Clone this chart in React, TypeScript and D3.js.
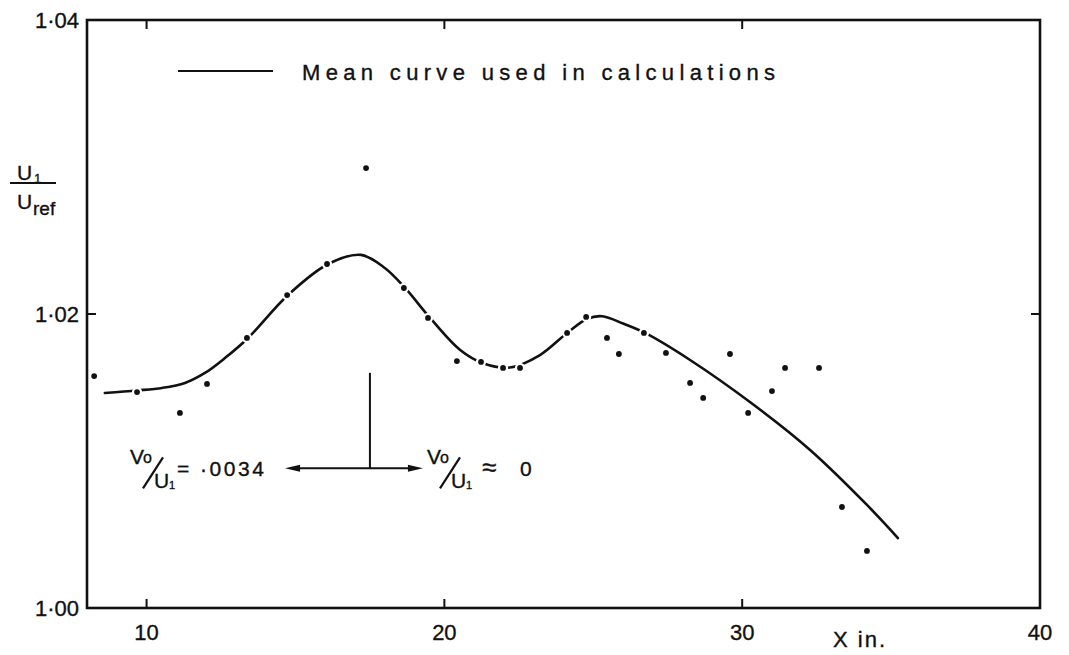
import React from "react";
import * as d3 from "d3";

// ---- data ----
const meanCurveX = [8.6, 9.68, 10.52, 11.29, 11.96, 12.63, 13.41, 14.75, 16.1, 17.2, 18.0, 18.68, 19.52, 20.53, 21.3, 22.2, 23.21, 24.12, 24.8, 25.3, 26.0, 26.74, 28.25, 30.26, 32.28, 34.19, 35.23];
const meanCurveY = [1.01463, 1.0148, 1.01497, 1.01531, 1.01599, 1.017, 1.01837, 1.02129, 1.0234, 1.02402, 1.02313, 1.02177, 1.01973, 1.01755, 1.01665, 1.01636, 1.01721, 1.01871, 1.01968, 1.01985, 1.01935, 1.01871, 1.01687, 1.01401, 1.01075, 1.00701, 1.00476];

const pointX = [8.24, 9.68, 11.12, 12.03, 13.37, 14.72, 16.06, 17.37, 18.64, 19.45, 20.42, 21.23, 21.97, 22.54, 24.12, 24.76, 25.46, 25.86, 26.7, 27.44, 28.25, 28.69, 29.59, 30.2, 31.0, 31.44, 32.58, 33.35, 34.19];
const pointY = [1.01578, 1.01469, 1.01327, 1.01524, 1.01837, 1.02129, 1.0234, 1.02993, 1.02177, 1.01973, 1.0168, 1.01674, 1.01633, 1.01633, 1.01871, 1.0198, 1.01837, 1.01728, 1.01871, 1.01735, 1.01531, 1.01429, 1.01728, 1.01327, 1.01476, 1.01633, 1.01633, 1.00687, 1.00388];

const xTickValues = [10, 20, 30, 40];
const xTickLabels = ["10", "20", "30", "40"];
const yTickValues = [1.0, 1.02, 1.04];
const yTickLabels = ["1·00", "1·02", "1·04"];

const legendLabel = "Mean curve used in calculations";
const xAxisLabel = "X in.";
const leftRatio = "= ·0034";
const approxSign = "≈";
const rightRatio = "0";

// annotation position (data units)
const arrowX = 17.5;
const arrowTopY = 1.016;
const arrowY = 1.0095;
const arrowLeftX = 14.65;
const arrowRightX = 19.28;

const W = 1069;
const H = 655;
const FONT = "'Liberation Sans', Arial, sans-serif";
const INK = "#111";
const TXT = { fill: INK, stroke: INK, strokeWidth: 0.35 };

function SlashFrac({ x, y }: { x: number; y: number }) {
  // x,y: left edge, vertical centre of the V/U1 slashed fraction
  return (
    <g fontFamily={FONT} {...TXT}>
      <text x={x} y={y - 4} fontSize={21}>V</text>
      <text x={x + 13} y={y - 5} fontSize={16}>o</text>
      <line x1={x + 13} y1={y + 20} x2={x + 33} y2={y - 11} stroke={INK} strokeWidth={2.2} />
      <text x={x + 24} y={y + 20} fontSize={21}>U</text>
      <text x={x + 39} y={y + 21} fontSize={11}>1</text>
    </g>
  );
}

export default function App() {
  const x = d3.scaleLinear().domain([8, 40]).range([87, 1040]);
  const y = d3.scaleLinear().domain([1.0, 1.04]).range([608, 20]);

  const curvePts: [number, number][] = meanCurveX.map((v, i) => [v, meanCurveY[i]]);
  const line = d3
    .line<[number, number]>()
    .x((d) => x(d[0]))
    .y((d) => y(d[1]))
    .curve(d3.curveCatmullRom.alpha(0.5));

  const [x0, x1] = x.range();
  const [yb, yt] = y.range();
  const tickLen = 9;

  const ax = x(arrowX);
  const ay = y(arrowY);
  const al = x(arrowLeftX);
  const ar = x(arrowRightX);

  return (
    <svg
      width={W}
      height={H}
      viewBox={`0 0 ${W} ${H}`}
      style={{ position: "absolute", left: 0, top: 0, background: "#fff" }}
    >
      <rect x={0} y={0} width={W} height={H} fill="#fff" />

      {/* mean curve */}
      <path d={line(curvePts) || ""} fill="none" stroke={INK} strokeWidth={2.6} strokeLinecap="round" />

      {/* data points with white halos (break the curve) */}
      {pointX.map((v, i) => (
        <circle key={i} cx={x(v)} cy={y(pointY[i])} r={2.9} fill={INK} stroke="#fff" strokeWidth={4.5} paintOrder="stroke" />
      ))}

      {/* frame */}
      <rect x={x0} y={yt} width={x1 - x0} height={yb - yt} fill="none" stroke={INK} strokeWidth={2.6} />

      {/* x ticks, bottom and top, inward */}
      {xTickValues.slice(0, 3).map((v) => (
        <g key={"xt" + v}>
          <line x1={x(v)} x2={x(v)} y1={yb} y2={yb - tickLen} stroke={INK} strokeWidth={2} />
          <line x1={x(v)} x2={x(v)} y1={yt} y2={yt + tickLen} stroke={INK} strokeWidth={2} />
        </g>
      ))}
      {/* y ticks at 1.02, left and right */}
      <line x1={x0} x2={x0 + tickLen} y1={y(1.02)} y2={y(1.02)} stroke={INK} strokeWidth={2} />
      <line x1={x1} x2={x1 - tickLen} y1={y(1.02)} y2={y(1.02)} stroke={INK} strokeWidth={2} />

      {/* x tick labels */}
      {xTickValues.map((v, i) => (
        <text key={"xl" + v} x={x(v)} y={640} textAnchor="middle" fontFamily={FONT} fontSize={22} {...TXT}>
          {xTickLabels[i]}
        </text>
      ))}
      <text x={833} y={647} fontFamily={FONT} fontSize={22} letterSpacing={2} {...TXT}>
        {xAxisLabel}
      </text>

      {/* y tick labels */}
      {yTickValues.map((v, i) => (
        <text key={"yl" + v} x={79} y={y(v) + 8} textAnchor="end" fontFamily={FONT} fontSize={22} {...TXT}>
          {yTickLabels[i]}
        </text>
      ))}

      {/* y axis label U1 / Uref */}
      <g fontFamily={FONT} {...TXT}>
        <text x={17} y={180} fontSize={21}>U</text>
        <text x={34} y={183} fontSize={13}>1</text>
        <line x1={10} x2={56} y1={183} y2={183} stroke={INK} strokeWidth={2} />
        <text x={17} y={209} fontSize={21}>U</text>
        <text x={33} y={215} fontSize={19}>ref</text>
      </g>

      {/* legend */}
      <line x1={178} x2={273} y1={71} y2={71} stroke={INK} strokeWidth={2.2} />
      <text x={302} y={80} fontFamily={FONT} fontSize={22} textLength={473} lengthAdjust="spacing" {...TXT}>
        {legendLabel}
      </text>

      {/* annotation arrows */}
      <line x1={ax} x2={ax} y1={y(arrowTopY)} y2={ay} stroke={INK} strokeWidth={2} />
      <line x1={al + 8} x2={ar - 8} y1={ay} y2={ay} stroke={INK} strokeWidth={2} />
      <path d={`M${al},${ay} L${al + 15},${ay - 3.5} L${al + 15},${ay + 3.5} Z`} fill={INK} />
      <path d={`M${ar},${ay} L${ar - 15},${ay - 3.5} L${ar - 15},${ay + 3.5} Z`} fill={INK} />

      <SlashFrac x={130} y={ay} />
      <text x={177} y={ay + 8} fontFamily={FONT} fontSize={21} letterSpacing={2.5} {...TXT}>
        {leftRatio}
      </text>
      <SlashFrac x={427} y={ay} />
      <text x={482} y={ay + 8} fontFamily={FONT} fontSize={26} {...TXT}>
        {approxSign}
      </text>
      <text x={520} y={ay + 8} fontFamily={FONT} fontSize={21} {...TXT}>
        {rightRatio}
      </text>
    </svg>
  );
}
